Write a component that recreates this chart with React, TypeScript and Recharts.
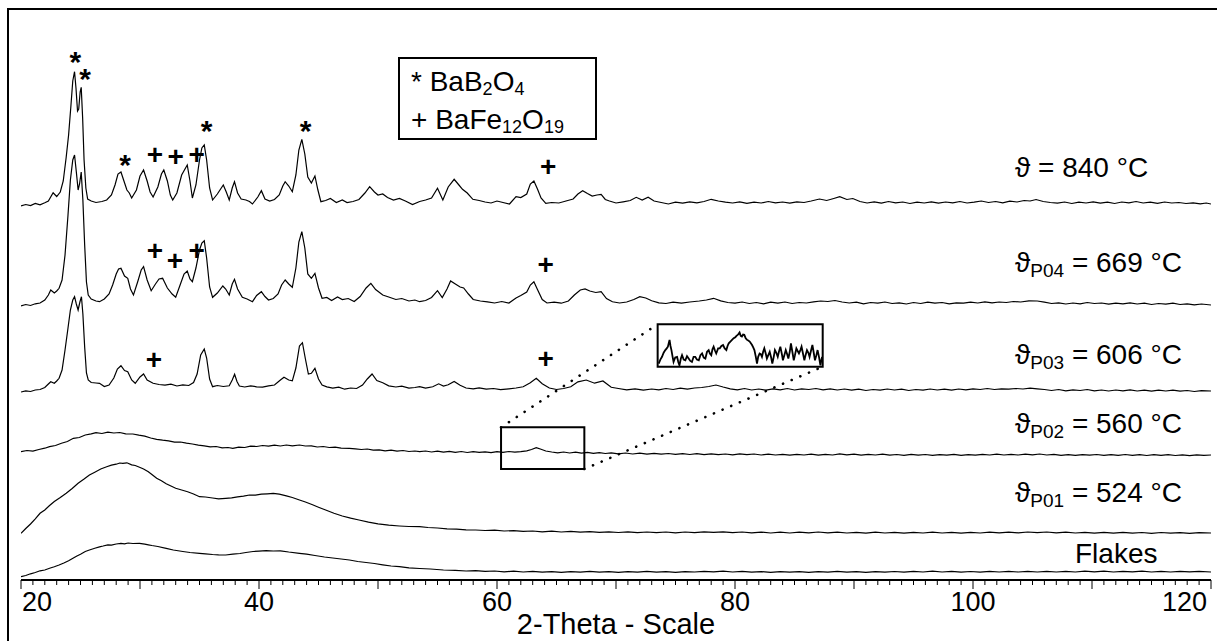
import React from 'react';
import { ComposedChart, Line, Scatter, XAxis, YAxis, ReferenceArea, ReferenceLine } from 'recharts';

type Pt = [number, number];

const FONT = '"Liberation Sans", Arial, sans-serif';

// 2-theta (deg) vs. intensity (stacked, arbitrary counts)
const t840: Pt[] = [
  [20.0,3740],[20.4,3755],[20.8,3745],[21.2,3765],[21.6,3752],[22.0,3772],[22.3,3790],[22.7,3872],[23.0,3835],[23.3,3880],
  [23.55,3990],[23.8,4230],[24.0,4450],[24.2,4750],[24.35,4990],[24.5,5083],[24.62,4920],[24.75,4690],[24.85,4710],[24.97,4880],
  [25.06,4927],[25.18,4620],[25.3,4200],[25.45,3920],[25.6,3810],[25.9,3790],[26.3,3775],[26.8,3785],[27.2,3800],[27.6,3850],
  [27.9,3950],[28.15,4060],[28.4,4080],[28.65,3990],[28.9,3900],[29.1,3870],[29.3,3820],[29.7,3900],[30.0,4040],[30.3,4100],
  [30.6,3990],[30.85,3880],[31.1,3830],[31.5,3930],[31.8,4060],[32.0,4100],[32.3,3990],[32.55,3850],[32.75,3800],[33.1,3870],
  [33.5,4050],[33.97,4150],[34.2,3990],[34.4,3820],[34.7,3950],[35.0,4200],[35.2,4320],[35.4,4350],[35.6,4200],[35.85,3920],
  [36.1,3800],[36.5,3860],[37.0,3950],[37.25,3880],[37.5,3800],[37.75,3920],[37.94,3983],[38.2,3870],[38.5,3810],[38.9,3800],
  [39.2,3785],[39.45,3760],[39.9,3830],[40.2,3893],[40.5,3810],[40.9,3790],[41.3,3805],[41.7,3850],[42.0,3940],[42.2,3983],
  [42.5,3940],[42.8,3883],[43.1,4050],[43.35,4300],[43.6,4407],[43.85,4260],[44.1,4030],[44.4,3970],[44.7,4040],[44.95,3900],
  [45.2,3783],[45.6,3795],[46.0,3815],[46.5,3775],[47.0,3800],[47.4,3775],[47.9,3785],[48.4,3805],[48.9,3870],[49.3,3933],
  [49.7,3880],[50.0,3850],[50.4,3860],[50.8,3825],[51.3,3800],[51.8,3815],[52.3,3790],[52.9,3755],[53.5,3785],[54.0,3800],
  [54.5,3820],[55.0,3917],[55.45,3800],[55.9,3930],[56.4,4007],[56.8,3950],[57.1,3907],[57.5,3870],[57.97,3807],[58.5,3795],
  [59.0,3780],[59.5,3770],[60.0,3790],[60.5,3775],[61.05,3760],[61.6,3833],[62.0,3825],[62.5,3860],[62.8,3960],[63.1,3990],
  [63.4,3910],[63.7,3820],[64.1,3767],[64.6,3775],[65.2,3770],[65.8,3790],[66.4,3810],[66.8,3860],[67.2,3893],[67.6,3865],
  [68.0,3840],[68.4,3850],[68.75,3857],[69.1,3805],[69.45,3790],[70.0,3770],[70.6,3782],[71.2,3795],[71.7,3827],[72.2,3800],
  [72.7,3827],[73.2,3790],[73.8,3775],[74.4,3760],[75.0,3778],[75.6,3768],[76.2,3782],[76.8,3772],[77.4,3785],[78.0,3807],
  [78.6,3790],[79.2,3778],[79.8,3770],[80.4,3782],[81.0,3766],[81.6,3778],[82.2,3770],[82.8,3785],[83.4,3772],[84.0,3780],
  [84.6,3768],[85.2,3782],[85.8,3775],[86.4,3790],[87.1,3810],[87.7,3795],[88.3,3815],[88.8,3833],[89.4,3805],[89.9,3815],
  [90.5,3785],[91.1,3770],[91.7,3782],[92.3,3768],[92.9,3785],[93.5,3772],[94.1,3780],[94.7,3765],[95.3,3778],[95.9,3770],
  [96.5,3782],[97.1,3768],[97.7,3780],[98.3,3772],[98.9,3785],[99.5,3770],[100.1,3778],[100.7,3790],[101.3,3775],[101.9,3785],
  [102.5,3772],[103.1,3788],[103.7,3780],[104.3,3795],[104.8,3790],[105.3,3805],[105.9,3785],[106.5,3775],[107.1,3768],[107.7,3780],
  [108.3,3765],[108.9,3778],[109.5,3770],[110.1,3782],[110.7,3768],[111.3,3778],[111.9,3765],[112.5,3780],[113.1,3772],[113.7,3785],
  [114.3,3770],[114.9,3778],[115.5,3766],[116.1,3780],[116.7,3770],[117.3,3775],[117.9,3765],[118.5,3772],[119.1,3762],[119.6,3770],
  [120.0,3760],
];

const t669: Pt[] = [
  [20.0,2740],[20.4,2755],[20.8,2745],[21.2,2762],[21.6,2770],[22.0,2800],[22.3,2850],[22.5,2900],[22.8,2870],[23.0,2890],
  [23.2,2917],[23.45,3000],[23.7,3250],[23.95,3650],[24.15,4000],[24.35,4200],[24.5,4250],[24.65,4080],[24.8,3900],[24.92,3960],
  [25.06,4080],[25.2,3800],[25.35,3350],[25.5,2980],[25.65,2850],[25.9,2810],[26.3,2790],[26.6,2783],[27.0,2810],[27.4,2860],
  [27.7,2950],[28.0,3060],[28.2,3110],[28.4,3117],[28.7,3040],[28.97,3017],[29.2,2910],[29.45,2850],[29.8,2980],[30.1,3100],
  [30.3,3133],[30.6,3000],[30.94,2893],[31.3,2960],[31.6,3010],[31.9,3017],[32.3,2920],[32.7,2860],[33.0,2827],[33.4,2960],
  [33.7,3060],[33.97,3090],[34.2,3010],[34.4,2983],[34.7,3120],[35.0,3300],[35.2,3370],[35.4,3393],[35.6,3220],[35.85,2930],
  [36.1,2827],[36.5,2870],[36.96,2940],[37.2,2910],[37.5,2850],[37.75,2960],[37.94,3007],[38.2,2910],[38.6,2827],[39.0,2810],
  [39.45,2783],[39.8,2845],[40.2,2883],[40.5,2835],[40.8,2800],[41.2,2815],[41.6,2860],[41.9,2950],[42.2,3000],[42.5,2960],
  [42.8,2927],[43.1,3120],[43.35,3380],[43.6,3483],[43.85,3320],[44.1,3060],[44.4,3017],[44.7,3067],[45.0,2920],[45.3,2817],
  [45.7,2825],[46.1,2795],[46.6,2830],[47.0,2805],[47.5,2815],[48.0,2785],[48.5,2835],[49.0,2920],[49.4,2967],[49.8,2905],
  [50.4,2850],[50.9,2830],[51.5,2805],[52.0,2815],[52.6,2790],[53.1,2800],[53.5,2783],[54.0,2795],[54.5,2825],[55.0,2893],
  [55.4,2825],[55.8,2910],[56.1,2990],[56.5,2960],[56.9,2930],[57.2,2920],[57.6,2860],[58.0,2805],[58.6,2790],[59.2,2782],
  [59.8,2770],[60.4,2785],[61.0,2770],[61.6,2820],[62.0,2845],[62.5,2880],[62.8,2950],[63.1,2983],[63.4,2905],[63.8,2805],
  [64.2,2770],[64.8,2778],[65.4,2768],[66.0,2790],[66.5,2850],[67.0,2900],[67.4,2910],[67.8,2890],[68.3,2875],[68.75,2883],
  [69.2,2815],[69.7,2782],[70.3,2770],[70.9,2780],[71.5,2805],[72.0,2833],[72.5,2820],[73.0,2792],[73.6,2772],[74.2,2765],
  [74.8,2778],[75.5,2768],[76.2,2780],[77.0,2790],[77.6,2800],[78.2,2817],[78.8,2792],[79.4,2775],[80.0,2768],[80.6,2780],
  [81.2,2765],[81.8,2775],[82.4,2762],[83.0,2778],[83.6,2768],[84.2,2780],[84.8,2765],[85.4,2775],[86.0,2770],[86.6,2782],
  [87.2,2790],[87.8,2785],[88.4,2795],[89.0,2780],[89.6,2770],[90.2,2778],[90.8,2762],[91.4,2775],[92.0,2768],[92.6,2780],
  [93.2,2765],[93.8,2772],[94.4,2760],[95.0,2775],[95.6,2765],[96.2,2778],[96.8,2768],[97.4,2775],[98.0,2762],[98.6,2772],
  [99.2,2768],[99.8,2778],[100.4,2770],[101.0,2782],[101.6,2772],[102.2,2780],[102.8,2775],[103.4,2785],[104.0,2780],[104.7,2792],
  [105.4,2790],[106.0,2778],[106.6,2765],[107.2,2772],[107.8,2760],[108.4,2770],[109.0,2762],[109.6,2775],[110.2,2765],[110.8,2770],
  [111.4,2758],[112.0,2768],[112.6,2762],[113.2,2772],[113.8,2760],[114.4,2768],[115.0,2755],[115.6,2765],[116.2,2758],[116.8,2768],
  [117.4,2755],[118.0,2762],[118.6,2752],[119.2,2760],[120.0,2750],
];

const t606: Pt[] = [
  [20.0,1880],[20.4,1892],[20.8,1885],[21.2,1900],[21.6,1905],[22.0,1925],[22.3,1960],[22.5,1983],[22.8,1968],[23.0,1990],
  [23.2,2017],[23.45,2100],[23.7,2300],[23.95,2520],[24.15,2700],[24.35,2800],[24.5,2833],[24.65,2760],[24.8,2700],[24.95,2780],
  [25.08,2833],[25.2,2660],[25.35,2330],[25.5,2070],[25.65,2000],[25.9,1975],[26.3,1970],[26.6,1967],[27.0,1935],[27.4,1950],
  [27.8,2020],[28.1,2110],[28.4,2143],[28.7,2095],[28.97,2083],[29.3,2000],[29.6,1967],[30.0,2030],[30.3,2060],[30.6,2000],
  [31.1,1967],[31.6,1955],[32.1,1948],[32.6,1958],[33.1,1940],[33.6,1952],[34.1,1945],[34.5,1975],[34.8,2060],[35.1,2250],
  [35.4,2310],[35.6,2220],[35.85,2010],[36.1,1933],[36.5,1945],[37.0,1935],[37.5,1942],[37.75,2000],[37.95,2057],[38.15,1985],
  [38.35,1940],[38.8,1930],[39.3,1942],[39.8,1932],[40.3,1928],[40.8,1942],[41.3,1950],[41.8,2000],[42.1,2027],[42.5,2000],
  [42.8,1992],[43.1,2120],[43.4,2340],[43.65,2373],[43.9,2210],[44.15,2060],[44.4,2067],[44.7,2117],[45.0,2010],[45.3,1950],
  [45.7,1932],[46.2,1918],[46.7,1928],[47.2,1908],[47.7,1920],[48.2,1915],[48.7,1950],[49.1,2010],[49.5,2060],[49.9,1995],
  [50.4,1973],[50.9,1942],[51.5,1930],[52.0,1938],[52.6,1918],[53.1,1925],[53.5,1933],[54.0,1918],[54.6,1932],[55.1,1962],
  [55.5,1940],[55.9,1952],[56.4,1985],[56.9,1948],[57.4,1920],[58.0,1912],[58.5,1922],[59.1,1908],[59.7,1915],[60.3,1903],
  [61.0,1912],[61.6,1920],[62.2,1932],[62.8,1972],[63.3,2017],[63.8,1962],[64.4,1920],[65.0,1905],[65.6,1915],[66.2,1932],
  [66.8,1982],[67.5,2000],[68.2,1968],[68.9,1990],[69.6,1927],[70.2,1915],[70.9,1902],[71.6,1912],[72.3,1898],[73.0,1910],
  [73.6,1902],[74.2,1915],[74.8,1905],[75.4,1918],[76.0,1908],[76.6,1920],[77.2,1925],[77.8,1935],[78.4,1950],[79.0,1930],
  [79.6,1912],[80.2,1902],[80.8,1915],[81.4,1900],[82.0,1910],[82.6,1898],[83.2,1912],[83.8,1902],[84.4,1915],[85.0,1900],
  [85.6,1912],[86.2,1905],[86.8,1915],[87.4,1902],[88.0,1912],[88.6,1900],[89.2,1910],[89.8,1898],[90.4,1908],[91.0,1895],
  [91.6,1905],[92.2,1898],[92.8,1910],[93.4,1900],[94.0,1908],[94.6,1895],[95.2,1905],[95.8,1898],[96.4,1910],[97.0,1900],
  [97.6,1908],[98.2,1898],[98.8,1910],[99.4,1902],[100.0,1912],[100.6,1905],[101.2,1915],[101.8,1905],[102.4,1912],[103.0,1908],
  [103.6,1915],[104.2,1910],[104.8,1918],[105.4,1912],[106.0,1905],[106.6,1895],[107.2,1905],[107.8,1892],[108.4,1902],[109.0,1895],
  [109.6,1905],[110.2,1892],[110.8,1900],[111.4,1890],[112.0,1900],[112.6,1892],[113.2,1902],[113.8,1890],[114.4,1898],[115.0,1888],
  [115.6,1898],[116.2,1890],[116.8,1898],[117.4,1888],[118.0,1895],[118.6,1885],[119.2,1893],[120.0,1890],
];

const t560: Pt[] = [
  [20.0,1283],[20.5,1295],[21.0,1288],[21.5,1305],[22.0,1318],[22.4,1333],[22.9,1345],[23.4,1368],[23.9,1385],[24.4,1417],
  [24.9,1425],[25.4,1450],[25.9,1462],[26.3,1473],[26.8,1465],[27.3,1478],[27.8,1470],[28.3,1475],[28.8,1462],[29.4,1460],
  [29.9,1448],[30.4,1438],[30.9,1420],[31.4,1407],[31.9,1398],[32.4,1392],[32.9,1378],[33.4,1380],[33.9,1368],[34.4,1360],
  [34.9,1348],[35.4,1342],[35.9,1332],[36.4,1335],[36.9,1322],[37.4,1325],[37.8,1317],[38.3,1328],[38.8,1325],[39.3,1338],
  [39.8,1335],[40.3,1345],[40.8,1338],[41.3,1348],[41.8,1340],[42.3,1350],[42.8,1342],[43.4,1350],[43.9,1340],[44.4,1342],
  [44.9,1330],[45.4,1335],[45.9,1325],[46.4,1328],[46.9,1318],[47.6,1317],[48.1,1312],[48.6,1305],[49.1,1310],[49.6,1298],
  [50.1,1302],[50.6,1292],[51.1,1298],[51.6,1288],[52.1,1295],[52.6,1285],[53.1,1290],[53.5,1283],[54.0,1290],[54.5,1280],
  [55.0,1288],[55.5,1278],[56.0,1286],[56.5,1276],[57.0,1285],[57.5,1275],[58.0,1284],[58.5,1276],[59.0,1282],[59.5,1274],
  [60.0,1283],[60.5,1276],[61.0,1285],[61.5,1278],[62.0,1283],[62.5,1292],[62.9,1305],[63.3,1323],[63.7,1308],[64.1,1290],
  [64.6,1280],[65.1,1272],[65.6,1280],[66.1,1270],[66.6,1278],[67.1,1268],[67.6,1276],[68.1,1266],[68.6,1274],[69.1,1265],
  [69.6,1272],[70.2,1262],[70.8,1270],[71.4,1260],[72.0,1268],[72.6,1258],[73.2,1266],[73.8,1258],[74.4,1265],[75.0,1256],
  [75.6,1264],[76.2,1255],[76.8,1263],[77.4,1254],[78.0,1262],[78.6,1254],[79.2,1260],[79.8,1252],[80.4,1262],[81.0,1253],
  [81.6,1260],[82.2,1250],[82.8,1258],[83.4,1250],[84.0,1257],[84.6,1248],[85.2,1256],[85.8,1250],[86.4,1258],[87.0,1249],
  [87.6,1256],[88.2,1250],[88.8,1262],[89.4,1252],[90.0,1258],[90.6,1248],[91.2,1256],[91.8,1250],[92.4,1258],[93.0,1248],
  [93.6,1255],[94.2,1247],[94.8,1256],[95.4,1248],[96.0,1255],[96.6,1246],[97.2,1254],[97.8,1248],[98.4,1256],[99.0,1247],
  [99.6,1254],[100.2,1248],[100.8,1256],[101.4,1250],[102.0,1258],[102.6,1250],[103.2,1257],[103.8,1250],[104.4,1258],[105.0,1252],
  [105.6,1260],[106.2,1250],[106.8,1256],[107.4,1247],[108.0,1254],[108.6,1246],[109.2,1254],[109.8,1248],[110.4,1255],[111.0,1246],
  [111.6,1254],[112.2,1247],[112.8,1255],[113.4,1246],[114.0,1253],[114.6,1245],[115.2,1254],[115.8,1246],[116.4,1253],[117.0,1245],
  [117.6,1252],[118.2,1244],[118.8,1252],[119.4,1246],[120.0,1250],
];

const t524: Pt[] = [
  [20.0,467],[20.4,515],[20.8,560],[21.2,612],[21.6,667],[22.0,700],[22.4,745],[22.8,785],[23.3,825],[23.8,867],
  [24.3,915],[24.8,968],[25.3,1010],[25.75,1050],[26.2,1078],[26.7,1110],[27.2,1133],[27.6,1148],[28.0,1158],[28.3,1170],
  [28.55,1167],[28.9,1172],[29.3,1152],[29.6,1145],[29.96,1127],[30.3,1110],[30.7,1082],[31.0,1055],[31.4,1017],[31.8,992],
  [32.2,962],[32.6,940],[33.0,917],[33.5,900],[34.0,882],[34.5,860],[35.0,833],[35.5,830],[36.1,820],[36.6,812],
  [37.2,817],[37.7,822],[38.2,832],[38.7,838],[39.2,850],[39.7,848],[40.2,858],[40.7,862],[41.2,867],[41.7,858],
  [42.3,842],[42.8,825],[43.4,800],[43.9,780],[44.5,752],[45.0,728],[45.6,700],[46.3,668],[47.0,640],[47.7,618],
  [48.4,600],[49.2,578],[50.0,562],[50.9,548],[51.8,540],[52.6,535],[53.5,533],[54.2,525],[55.0,520],[55.8,512],
  [56.6,508],[57.4,502],[58.2,500],[59.0,495],[59.8,498],[60.6,490],[61.4,494],[62.2,486],[63.0,490],[63.8,482],
  [64.6,488],[65.4,480],[66.2,486],[67.0,478],[67.8,484],[68.6,476],[69.4,482],[70.2,475],[71.0,482],[71.8,474],
  [72.6,480],[73.4,473],[74.2,480],[75.0,472],[75.8,480],[76.6,474],[77.4,482],[78.2,476],[79.0,482],[79.8,474],
  [80.6,480],[81.4,472],[82.2,479],[83.0,470],[83.8,478],[84.6,470],[85.4,478],[86.2,471],[87.0,480],[87.8,472],
  [88.6,478],[89.4,470],[90.2,477],[91.0,469],[91.8,478],[92.6,470],[93.4,476],[94.2,468],[95.0,477],[95.8,470],
  [96.6,478],[97.4,470],[98.2,476],[99.0,468],[99.8,476],[100.6,470],[101.4,478],[102.2,471],[103.0,479],[103.8,472],
  [104.6,480],[105.4,474],[106.2,480],[107.0,472],[107.8,478],[108.6,470],[109.4,477],[110.2,469],[111.0,476],[111.8,468],
  [112.6,476],[113.4,468],[114.2,475],[115.0,467],[115.8,475],[116.6,468],[117.4,474],[118.2,466],[119.0,473],[120.0,470],
];

const tFlakes: Pt[] = [
  [20.0,33],[20.4,45],[20.8,62],[21.2,75],[21.6,92],[22.0,100],[22.4,117],[22.8,132],[23.2,150],[23.6,170],
  [24.0,192],[24.4,220],[24.7,240],[25.0,258],[25.4,285],[25.75,300],[26.2,318],[26.6,332],[26.9,340],[27.3,352],
  [27.6,348],[28.0,360],[28.4,366],[28.7,362],[29.0,370],[29.4,365],[29.96,367],[30.4,358],[30.7,352],[31.0,345],
  [31.5,335],[32.2,317],[32.8,300],[33.6,285],[34.2,275],[35.0,267],[35.5,262],[36.1,255],[36.6,252],[37.2,250],
  [37.8,258],[38.4,265],[38.9,275],[39.5,285],[40.0,288],[40.6,293],[41.2,290],[41.8,292],[42.5,280],[43.4,267],
  [44.0,258],[44.7,245],[45.5,230],[46.2,220],[46.9,210],[47.6,200],[48.3,185],[49.0,175],[49.7,165],[50.4,152],
  [51.1,140],[51.8,133],[52.6,122],[53.5,115],[54.4,110],[55.5,100],[56.5,96],[57.4,90],[58.2,94],[59.0,86],
  [59.8,90],[60.6,82],[61.4,88],[62.2,80],[63.0,86],[63.8,78],[64.6,84],[65.4,76],[66.2,84],[67.0,78],
  [67.8,86],[68.6,78],[69.4,84],[70.2,76],[71.0,84],[71.8,78],[72.6,86],[73.4,78],[74.2,84],[75.0,76],
  [75.8,84],[76.6,80],[77.4,86],[78.2,82],[79.0,88],[79.8,80],[80.6,86],[81.4,78],[82.2,84],[83.0,76],
  [83.8,84],[84.6,78],[85.4,84],[86.2,76],[87.0,84],[87.8,78],[88.6,86],[89.4,78],[90.2,84],[91.0,76],
  [91.8,84],[92.6,78],[93.4,85],[94.2,78],[95.0,86],[95.8,80],[96.6,88],[97.4,80],[98.2,86],[99.0,78],
  [99.8,85],[100.6,78],[101.4,86],[102.2,80],[103.0,87],[103.8,80],[104.6,86],[105.4,80],[106.2,87],[107.0,80],
  [107.8,86],[108.6,80],[109.4,88],[110.2,82],[111.0,88],[111.8,80],[112.6,87],[113.4,82],[114.2,88],[115.0,80],
  [115.8,86],[116.6,80],[117.4,87],[118.2,82],[119.0,86],[120.0,80],
];

// magnified P02 detail shown in the inset (own scale)
const insetDetail: Pt[] = [
  [60.33,10],[60.40,22],[60.47,30],[60.54,42],[60.61,50],[60.67,55],[60.72,60],[60.76,72],[60.79,80],[60.83,62],
  [60.87,50],[60.92,30],[60.96,15],[61.03,28],[61.11,30],[61.16,15],[61.21,5],[61.27,25],[61.32,35],[61.39,22],
  [61.46,20],[61.53,32],[61.60,25],[61.67,18],[61.74,15],[61.81,30],[61.88,30],[61.95,22],[62.03,20],[62.10,35],
  [62.17,40],[62.24,28],[62.31,25],[62.38,45],[62.45,50],[62.50,40],[62.56,35],[62.61,52],[62.66,60],[62.72,48],
  [62.77,40],[62.85,55],[62.92,55],[62.99,62],[63.06,65],[63.13,55],[63.20,50],[63.25,62],[63.30,70],[63.37,75],
  [63.44,80],[63.51,85],[63.58,88],[63.63,92],[63.68,95],[63.72,98],[63.76,102],[63.81,92],[63.86,90],[63.91,96],
  [63.96,95],[64.02,85],[64.08,80],[64.13,78],[64.19,75],[64.24,70],[64.29,65],[64.34,58],[64.39,50],[64.45,30],
  [64.50,10],[64.55,30],[64.61,40],[64.66,38],[64.71,30],[64.76,45],[64.81,55],[64.87,40],[64.92,25],[64.98,35],
  [65.04,45],[65.10,28],[65.15,10],[65.21,30],[65.26,50],[65.32,42],[65.38,30],[65.43,45],[65.49,60],[65.55,40],
  [65.60,20],[65.66,35],[65.72,50],[65.77,40],[65.83,25],[65.89,45],[65.94,70],[66.00,45],[66.06,20],[66.11,35],
  [66.17,55],[66.22,48],[66.28,40],[66.34,50],[66.39,60],[66.45,40],[66.51,20],[66.56,35],[66.62,50],[66.68,42],
  [66.73,30],[66.79,48],[66.85,65],[66.90,45],[66.96,20],[67.02,35],[67.07,50],[67.13,30],[67.19,5],[67.23,20],
  [67.26,30],
];

// phase markers: * BaB2O4, + BaFe12O19
const markers = [
  { x: 24.56, y: 5250, s: '*' }, { x: 25.38, y: 5083, s: '*' }, { x: 28.74, y: 4217, s: '*' },
  { x: 31.26, y: 4260, s: '+' }, { x: 33.0, y: 4233, s: '+' }, { x: 34.76, y: 4260, s: '+' },
  { x: 35.6, y: 4560, s: '*' }, { x: 43.92, y: 4560, s: '*' }, { x: 64.31, y: 4140, s: '+' },
  { x: 31.26, y: 3293, s: '+' }, { x: 32.94, y: 3200, s: '+' }, { x: 34.76, y: 3293, s: '+' },
  { x: 64.09, y: 3160, s: '+' },
  { x: 31.18, y: 2210, s: '+' }, { x: 64.09, y: 2217, s: '+' },
];

const sampleLabels = [
  { sub: '', temp: '840', base: 177 },
  { sub: 'P04', temp: '669', base: 272 },
  { sub: 'P03', temp: '606', base: 364 },
  { sub: 'P02', temp: '560', base: 433 },
  { sub: 'P01', temp: '524', base: 502 },
];

const tickLabels = [20, 40, 60, 80, 100, 120];
const minorTicks = Array.from({ length: 101 }, (_, i) => 20 + i);

// zoom window on P02 and where its enlargement sits
const zoomWin = { x1: 60.34, x2: 67.34, y1: 1110, y2: 1527 };
const zoomBox = { x1: 73.5, x2: 87.37, y1: 2133, y2: 2557 };

const rows = (pts: Pt[]) => pts.map(([x, y]) => ({ x, y }));
const traces = [t840, t669, t606, t560, t524, tFlakes].map(rows);

const AxisTick = (p: any) => {
  const { x, y, payload } = p;
  const v = payload.value;
  const major = v % 10 === 0;
  let anchor: 'start' | 'middle' | 'end' = 'middle';
  let tx = x;
  if (v === tickLabels[0]) { anchor = 'start'; tx = x + 1; }
  if (v === tickLabels[tickLabels.length - 1]) { anchor = 'end'; tx = x - 4; }
  return (
    <g>
      <line x1={x} x2={x} y1={y} y2={y + (major ? 9 : 5)} stroke="#000" strokeWidth={1} />
      {tickLabels.includes(v) && (
        <text x={tx} y={y + 31} textAnchor={anchor} fontSize={27} fontFamily={FONT} fill="#000">{v}</text>
      )}
    </g>
  );
};

const Mark = (p: any) => {
  const { cx, cy, payload } = p;
  const star = payload.s === '*';
  const fs = star ? 30 : 28;
  return (
    <text x={cx} y={cy + (star ? 0.56 : 0.34) * fs} textAnchor="middle" fontSize={fs}
      fontWeight="bold" fontFamily={FONT} fill="#000">{payload.s}</text>
  );
};

const App: React.FC = () => {
  return (
    <div style={{ position: 'absolute', left: 0, top: 0, width: 1217, height: 641, overflow: 'hidden', background: '#fff' }}>
      <div style={{ position: 'absolute', left: 7, top: 8, width: 1220, height: 640, borderLeft: '2px solid #000', borderTop: '2px solid #000' }} />

      <div style={{ position: 'absolute', left: 0, top: 0 }}>
        <ComposedChart width={1217} height={641} margin={{ top: 8, right: 6, bottom: 0, left: 21 }}>
          <XAxis
            type="number"
            dataKey="x"
            domain={[20, 120]}
            ticks={minorTicks}
            interval={0}
            tickLine={false}
            tickSize={0}
            tickMargin={0}
            tick={AxisTick}
            height={61}
            axisLine={{ stroke: '#000', strokeWidth: 2 }}
            allowDataOverflow
          />
          <YAxis hide type="number" domain={[0, 5720]} allowDataOverflow />
          <ReferenceArea {...zoomWin} fill="none" fillOpacity={0} stroke="#000" strokeWidth={2} />
          <ReferenceArea {...zoomBox} fill="#fff" fillOpacity={1} stroke="#000" strokeWidth={2} />
          <ReferenceLine
            segment={[{ x: zoomWin.x1, y: zoomWin.y2 }, { x: zoomBox.x1, y: zoomBox.y2 }]}
            stroke="#000" strokeWidth={2.6} strokeDasharray="0.1 9.3" strokeLinecap="round"
          />
          <ReferenceLine
            segment={[{ x: zoomWin.x2, y: zoomWin.y1 }, { x: zoomBox.x2, y: zoomBox.y1 }]}
            stroke="#000" strokeWidth={2.6} strokeDasharray="0.1 9.3" strokeLinecap="round"
          />
          {traces.map((d, i) => (
            <Line key={i} data={d} dataKey="y" type="linear" stroke="#000" strokeWidth={1.2}
              dot={false} activeDot={false} isAnimationActive={false} />
          ))}
          <Scatter data={markers} dataKey="y" shape={Mark} isAnimationActive={false} />
        </ComposedChart>
      </div>

      <div style={{ position: 'absolute', left: 658, top: 324, width: 165, height: 43 }}>
        <ComposedChart width={165} height={43} margin={{ top: 0, right: 0, bottom: 0, left: 0 }}>
          <XAxis hide type="number" dataKey="x" domain={[60.3, 67.3]} allowDataOverflow />
          <YAxis hide type="number" domain={[0, 127]} allowDataOverflow />
          <Line data={rows(insetDetail)} dataKey="y" type="linear" stroke="#000" strokeWidth={1.8}
            dot={false} activeDot={false} isAnimationActive={false} />
        </ComposedChart>
      </div>

      <svg width={1217} height={641} style={{ position: 'absolute', left: 0, top: 0, pointerEvents: 'none' }}
        fontFamily={FONT} fill="#000">
        <rect x={399} y={58} width={197} height={81} fill="#fff" stroke="#000" strokeWidth={2} />
        <text x={411} y={91} fontSize={28} style={{ whiteSpace: 'pre' }}>
          {'* BaB'}<tspan fontSize={18} dy={4}>2</tspan><tspan dy={-4}>O</tspan><tspan fontSize={18} dy={4}>4</tspan>
        </text>
        <text x={411} y={129} fontSize={28} style={{ whiteSpace: 'pre' }}>
          {'+ BaFe'}<tspan fontSize={18} dy={4}>12</tspan><tspan dy={-4}>O</tspan><tspan fontSize={18} dy={4}>19</tspan>
        </text>

        {sampleLabels.map((l) => (
          <text key={l.temp} x={1015} y={l.base} fontSize={28} style={{ whiteSpace: 'pre' }}>
            {'\u03D1'}
            {l.sub ? <tspan fontSize={19} dy={5}>{l.sub}</tspan> : null}
            <tspan dy={l.sub ? -5 : 0}>{' = ' + l.temp + ' \u00B0C'}</tspan>
          </text>
        ))}
        <text x={1075} y={563} fontSize={28}>Flakes</text>

        <text x={616} y={634} fontSize={29} textAnchor="middle">2-Theta - Scale</text>
      </svg>
    </div>
  );
};

export default App;
